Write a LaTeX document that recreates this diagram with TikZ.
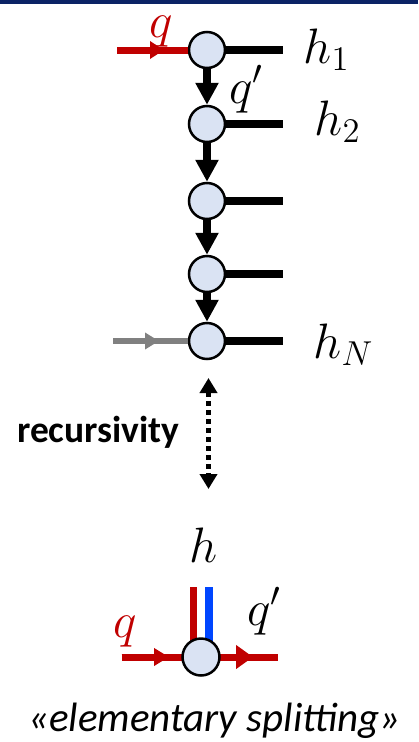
\documentclass[tikz,border=0pt]{standalone}
\usepackage{fontspec}
\newfontfamily\calfont{Carlito}
\usetikzlibrary{arrows.meta,backgrounds}
\definecolor{nodefill}{HTML}{DAE3F3}
\definecolor{myred}{HTML}{C00000}
\definecolor{myblue}{HTML}{0046FF}
\definecolor{navy}{HTML}{0B2365}
\definecolor{mygray}{HTML}{808080}
\begin{document}
\begin{tikzpicture}[x=1pt,y=-1pt,
  bead/.style={circle, draw=black, line width=2.5pt, fill=nodefill, minimum size=36pt, inner sep=0pt},
  hline/.style={line width=8pt, black},
  chainarrow/.style={line width=7.5pt, black, -{Triangle[length=22pt,width=22pt]}},
  redline/.style={line width=7pt, myred},
  blueline/.style={line width=7.5pt, myblue},
  grayline/.style={line width=6pt, mygray},
  mathlab/.style={inner sep=0pt, scale=2.4, font=\fontsize{20}{24}\selectfont},
  dotarrow/.style={line width=5pt, black, dash pattern=on 5pt off 4pt, {Triangle[length=15pt,width=17pt]}-{Triangle[length=15pt,width=17pt]}},
]
\useasboundingbox (0,0) rectangle (418,742);
\fill[navy] (0,0) rectangle (418,4);

% chain
\node[bead] (c1) at (207,50) {};
\node[bead] (c2) at (207,124) {};
\node[bead] (c3) at (207,201) {};
\node[bead] (c4) at (207,274) {};
\node[bead] (c5) at (207,341) {};

\coordinate (e1) at (283,50);
\coordinate (e2) at (283,124);
\coordinate (e3) at (283,201);
\coordinate (e4) at (283,274);
\coordinate (e5) at (283,341);
\foreach \i in {1,...,5} {\draw[hline] (c\i.east) -- (e\i);}

\draw[chainarrow] (c1.south) -- (c2.north);
\draw[chainarrow] (c2.south) -- (c3.north);
\draw[chainarrow] (c3.south) -- (c4.north);
\draw[chainarrow] (c4.south) -- (c5.north);

% red input
\coordinate (qin) at (117,50);
\coordinate (qtip) at (164,50);
\draw[redline] (qin) -- (c1.west);
\draw[redline, -{Triangle[length=14pt,width=17pt]}] (qin) -- (qtip);

% gray input
\coordinate (gin) at (113,341);
\coordinate (gtip) at (159,341);
\draw[grayline] (gin) -- (c5.west);
\draw[grayline, -{Triangle[length=14pt,width=16pt]}] (gin) -- (gtip);

% labels
\node[mathlab, anchor=base west, text=myred] (lq) at (149,37) {$q$};
\node[mathlab, anchor=base west] (lqp) at (229,103) {$q'$};
\node[mathlab, anchor=base west] (lh1) at (303,63) {$h_1$};
\node[mathlab, anchor=base west] (lh2) at (314,135) {$h_2$};
\node[mathlab, anchor=base west] (lhN) at (313,358) {$h_N$};

% recursivity
\coordinate (rtop) at (208.5,378);
\coordinate (rbot) at (208.5,489);
\draw[dotarrow] (rtop) -- (rbot);
\node[inner sep=0pt, anchor=base west, font=\calfont\bfseries\fontsize{37.5}{44}\selectfont] (rec) at (17,442) {recursivity};

% elementary splitting
\node[bead, minimum size=37pt] (s) at (201,657) {};
\coordinate (rv) at (193.5,587);
\coordinate (bv) at (209,587);
\coordinate (sl) at (121.5,657);
\coordinate (sr) at (277.7,657);
\coordinate (sltip) at (169,657);
\coordinate (srtip) at (253,657);
\begin{scope}[on background layer]
\draw[redline] (rv) -- (rv |- s.center);
\draw[blueline] (bv) -- (bv |- s.center);
\draw[redline] (sl) -- (sr);
\end{scope}
\draw[redline, -{Triangle[length=15pt,width=17pt]}] (sl) -- (sltip);
\draw[redline, -{Triangle[length=17pt,width=23pt]}] (s.east) -- (srtip);

\node[mathlab, anchor=base west] (lh) at (189,562) {$h$};
\node[mathlab, anchor=base west, text=myred] (lq2) at (113,637) {$q$};
\node[mathlab, anchor=base west] (lqp2) at (247,625) {$q'$};
\node[inner sep=0pt, anchor=base west, font=\calfont\itshape\fontsize{41}{48}\selectfont] (es) at (28,731) {«elementary splitting»};
\end{tikzpicture}
\end{document}
